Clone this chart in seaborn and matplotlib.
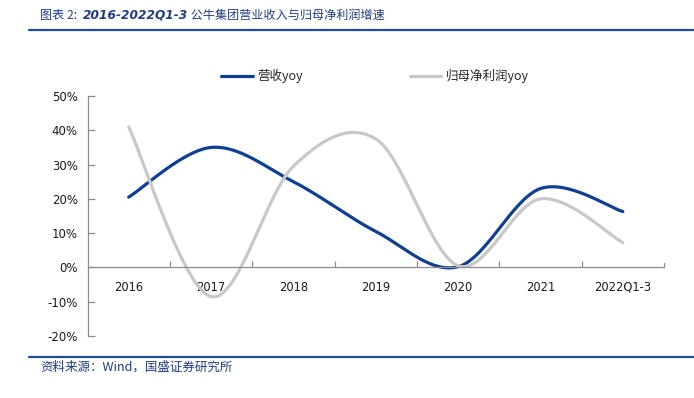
import numpy as np
import pandas as pd
import matplotlib
matplotlib.use("Agg")
import matplotlib.pyplot as plt
import seaborn as sns
from matplotlib.lines import Line2D
from matplotlib.ticker import FixedLocator, FuncFormatter

# ---------------- data ----------------
categories = ['2016', '2017', '2018', '2019', '2020', '2021', '2022Q1-3']
revenue_yoy = [20.5, 35.0, 25.0, 10.5, 0.2, 23.0, 16.3]
profit_yoy = [41.0, -8.5, 29.5, 37.5, 0.5, 20.0, 7.2]
series_names = ['营收yoy', '归母净利润yoy']
y_ticks = [-20, -10, 0, 10, 20, 30, 40, 50]
title_parts = ['图表 2:  ', '2016-2022Q1-3', ' 公牛集团营业收入与归母净利润增速']
source_text = '资料来源：Wind，国盛证券研究所'

BLUE = '#0D3F94'
GRAY = '#C8C8C8'
AXIS = '#8C8C8C'
TITLE_BLUE = '#1F3C88'

sns.set_theme(style='white')
plt.rcParams['font.family'] = ['DejaVu Sans', 'Noto Sans CJK SC']
CJK = ['Noto Sans CJK SC', 'DejaVu Sans']


def smooth_curve(values, steps=60):
    """Excel-like smoothed line (Catmull-Rom style Bezier) through the points."""
    y = np.asarray(values, float)
    n = len(y)
    P = np.column_stack([np.arange(n, dtype=float), y])
    out = []
    t = np.linspace(0, 1, steps)[:, None]
    for i in range(n - 1):
        p0 = P[i - 1] if i > 0 else P[i]
        p1, p2 = P[i], P[i + 1]
        p3 = P[i + 2] if i + 2 < n else P[i + 1]
        c1 = p1 + (p2 - p0) / 6.0
        c2 = p2 - (p3 - p1) / 6.0
        B = (1 - t) ** 3 * p1 + 3 * (1 - t) ** 2 * t * c1 + 3 * (1 - t) * t ** 2 * c2 + t ** 3 * p2
        out.append(B if i == 0 else B[1:])
    return np.vstack(out)


frames = []
for name, vals in zip(series_names, [revenue_yoy, profit_yoy]):
    c = smooth_curve(vals)
    frames.append(pd.DataFrame({'x': c[:, 0], 'y': c[:, 1], 'series': name,
                                'order': np.arange(len(c))}))
df = pd.concat(frames, ignore_index=True)

fig = plt.figure(figsize=(6.94, 3.98), dpi=100)
ax = fig.add_axes([87.5 / 694, 1 - 336 / 398, (664 - 87.5) / 694, (336 - 96) / 398])

sns.lineplot(data=df, x='x', y='y', hue='series', hue_order=series_names,
             palette=[BLUE, GRAY], sort=False, estimator=None, units='series',
             linewidth=2.3, legend=False, ax=ax)

ax.set_xlim(-0.5, len(categories) - 0.5)
ax.set_ylim(-20, 50)
ax.set_xlabel('')
ax.set_ylabel('')

for s in ['top', 'right']:
    ax.spines[s].set_visible(False)
ax.spines['left'].set_color(AXIS)
ax.spines['left'].set_linewidth(0.9)
ax.spines['bottom'].set_color(AXIS)
ax.spines['bottom'].set_linewidth(0.9)
ax.spines['bottom'].set_position(('data', 0))

ax.yaxis.set_major_locator(FixedLocator(y_ticks))
ax.yaxis.set_major_formatter(FuncFormatter(lambda v, p: f'{int(v)}%'))
ax.tick_params(axis='y', direction='in', length=5, width=0.9, color=AXIS,
               labelsize=8.5, pad=7, labelcolor='#1a1a1a', left=True)

ax.set_xticks(range(len(categories)))
ax.set_xticklabels(categories)
ax.set_xticks(np.arange(0.5, len(categories) - 0.99, 1.0), minor=True)
ax.tick_params(axis='x', which='major', length=0, labelsize=8.3, pad=9.5,
               labelcolor='#1a1a1a', bottom=True)
ax.tick_params(axis='x', which='minor', direction='in', length=4.5, width=0.9,
               color=AXIS, bottom=True)
ax.grid(False)
# closing tick at the right end of the category axis
ax.axvline(len(categories) - 0.5, ymin=20 / 70, ymax=20 / 70 + 4.5 / 240,
           color=AXIS, lw=0.9, clip_on=False)

handles = [Line2D([], [], color=BLUE, lw=2.3), Line2D([], [], color=GRAY, lw=2.3)]
fig.legend(handles, series_names, loc='center', bbox_to_anchor=(375 / 694, 1 - 76 / 398),
           ncol=2, frameon=False, handlelength=2.5, handletextpad=0.35,
           columnspacing=8.6, prop={'family': CJK, 'size': 9})

# title built from pieces
renderer = fig.canvas.get_renderer()
x0 = 40 / 694
ty = 1 - 15.5 / 398
styles = [dict(family=CJK, style='italic', weight='normal'),
          dict(family=['DejaVu Sans'], style='italic', weight='bold'),
          dict(family=CJK, style='italic', weight='normal')]
for part, st in zip(title_parts, styles):
    t = fig.text(x0, ty, part, fontsize=8.7, color=TITLE_BLUE, va='center', ha='left', **st)
    bb = t.get_window_extent(renderer)
    x0 += bb.width / fig.bbox.width

fig.add_artist(Line2D([29 / 694, 1.0], [1 - 29.5 / 398] * 2, color='#1F4E9C', lw=1.6))
fig.add_artist(Line2D([29 / 694, 1.0], [1 - 357 / 398] * 2, color='#1F4E9C', lw=1.6))
fig.text(40 / 694, 1 - 367 / 398, source_text, fontsize=9, color=TITLE_BLUE,
         va='center', ha='left', family=CJK, style='italic')

fig.savefig('out.png', dpi=100, facecolor='white')
